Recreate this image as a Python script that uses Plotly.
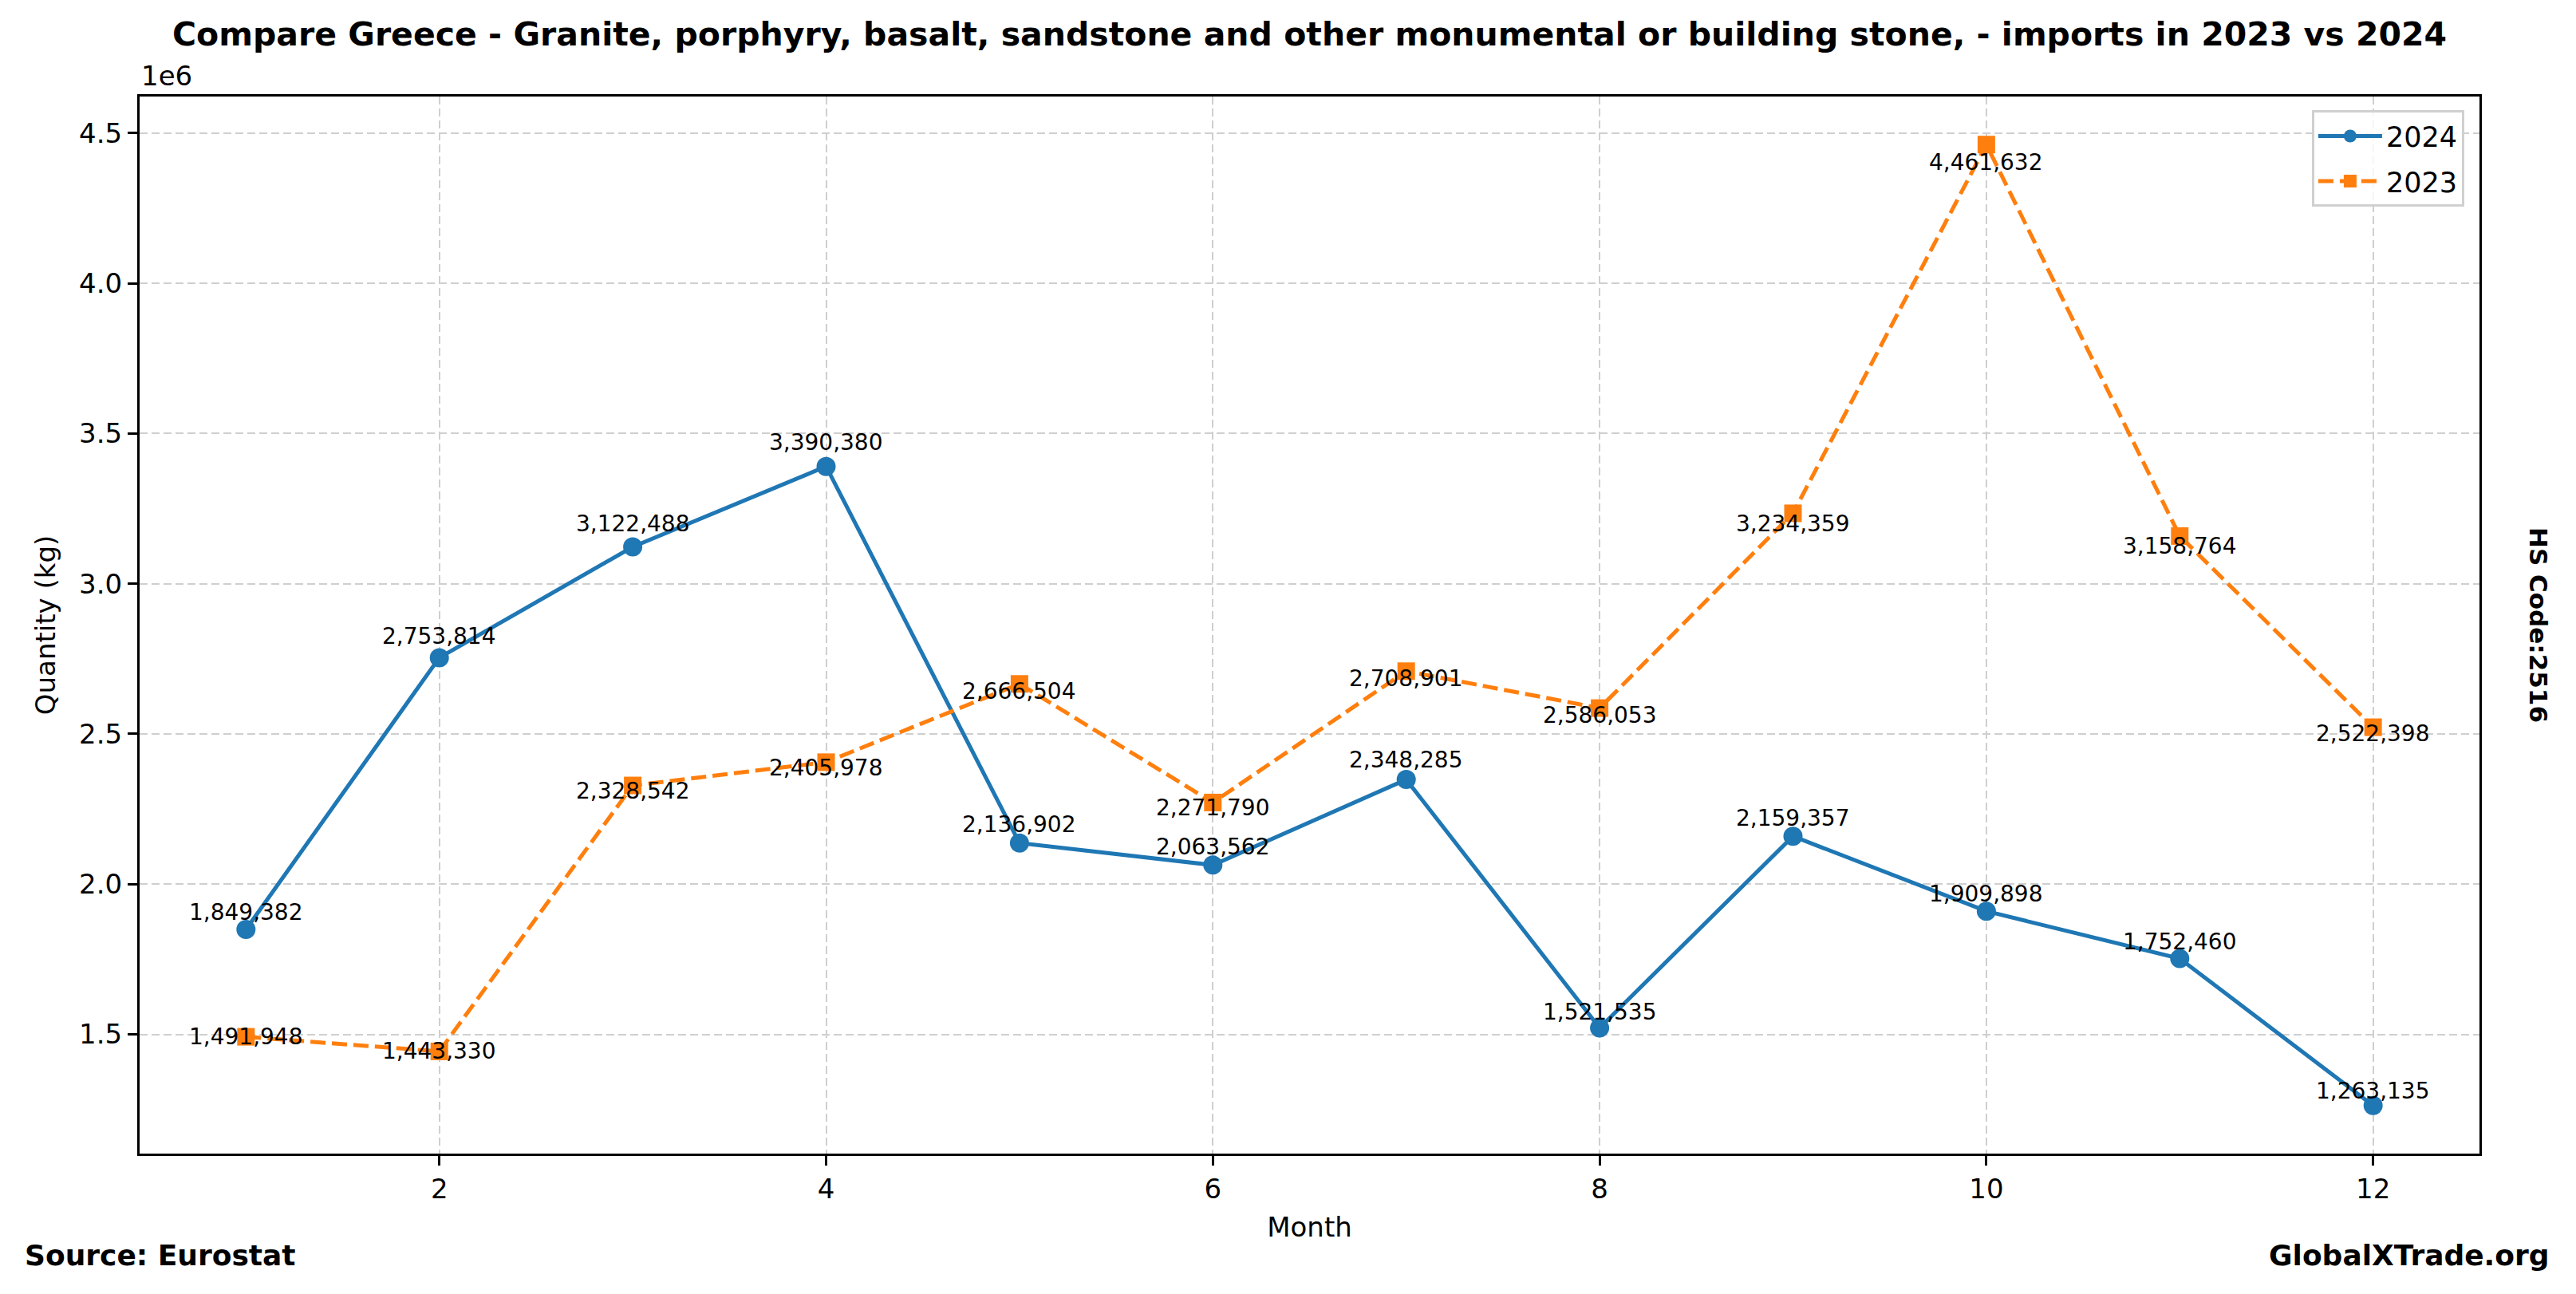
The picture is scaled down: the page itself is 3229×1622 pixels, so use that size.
import plotly.graph_objects as go

months = [1, 2, 3, 4, 5, 6, 7, 8, 9, 10, 11, 12]
qty_2024 = [1849382, 2753814, 3122488, 3390380, 2136902, 2063562,
            2348285, 1521535, 2159357, 1909898, 1752460, 1263135]
qty_2023 = [1491948, 1443330, 2328542, 2405978, 2666504, 2271790,
            2708901, 2586053, 3234359, 4461632, 3158764, 2522398]
x_ticks = [2, 4, 6, 8, 10, 12]
y_ticks = [1.5e6, 2.0e6, 2.5e6, 3.0e6, 3.5e6, 4.0e6, 4.5e6]
y_tick_labels = ["1.5", "2.0", "2.5", "3.0", "3.5", "4.0", "4.5"]

title = ("Compare Greece - Granite, porphyry, basalt, sandstone and other monumental "
         "or building stone, - imports in 2023 vs 2024")

BLUE = "#1f77b4"
ORANGE = "#ff7f0e"
FONT = "DejaVu Sans"

fig = go.Figure()
fig.add_trace(go.Scatter(
    x=months, y=qty_2024, name="2024", mode="lines+markers", legendgroup="a",
    line=dict(color=BLUE, width=5),
    marker=dict(symbol="circle", size=24, color=BLUE),
))
fig.add_trace(go.Scatter(
    x=months, y=qty_2023, name="2023", mode="lines+markers", legendgroup="b",
    line=dict(color=ORANGE, width=5, dash="19px,8px"),
    marker=dict(symbol="square", size=22, color=ORANGE),
))

annotations = []
# labels anchored slightly above (2024) / below (2023) each point, relative to value
for m, v in zip(months, qty_2024):
    annotations.append(dict(x=m, y=v * 1.015, xref="x", yref="y", text=f"{v:,}",
                            showarrow=False, yanchor="middle", xanchor="center",
                            yshift=11, font=dict(family=FONT, size=28, color="black")))
for m, v in zip(months, qty_2023):
    annotations.append(dict(x=m, y=v * 0.98, xref="x", yref="y", text=f"{v:,}",
                            showarrow=False, yanchor="middle", xanchor="center",
                            yshift=11, font=dict(family=FONT, size=28, color="black")))

W, H = 3229, 1622
L, R, T, B = 175, 3108, 121, 1446


def px_x(p):
    return (p - L) / (R - L)


def px_y(p):
    return (B - p) / (B - T)


annotations += [
    dict(x=0, y=1, xref="paper", yref="paper", text="1e6", showarrow=False,
         xanchor="left", yanchor="bottom", yshift=4,
         font=dict(family=FONT, size=34, color="black")),
    dict(x=px_x(29), y=px_y(1573), xref="paper", yref="paper", text="<b>Source: Eurostat</b>",
         showarrow=False, xanchor="left", yanchor="middle",
         font=dict(family=FONT, size=36, color="black")),
    dict(x=px_x(3198), y=px_y(1573), xref="paper", yref="paper", text="<b>GlobalXTrade.org</b>",
         showarrow=False, xanchor="right", yanchor="middle",
         font=dict(family=FONT, size=36, color="black")),
    dict(x=px_x(3182), y=px_y(783), xref="paper", yref="paper", text="<b>HS Code:2516</b>",
         showarrow=False, xanchor="center", yanchor="middle", textangle=90,
         font=dict(family=FONT, size=31, color="black")),
]

fig.update_layout(
    width=W, height=H,
    margin=dict(l=L, r=W - R, t=T, b=H - B, pad=0),
    paper_bgcolor="white", plot_bgcolor="white",
    font=dict(family=FONT, size=34, color="black"),
    title=dict(text="<b>" + title + "</b>", x=0.5, xref="paper", xanchor="center",
               y=1 - 43 / H, yref="container", yanchor="middle",
               font=dict(family=FONT, size=41, color="black")),
    showlegend=True,
    legend=dict(x=0.9935, y=0.987, xanchor="right", yanchor="top",
                bgcolor="rgba(255,255,255,0.8)", bordercolor="#d0d0d0", borderwidth=3,
                font=dict(family=FONT, size=35, color="black"),
                itemwidth=80, tracegroupgap=8),
    annotations=annotations,
)

fig.update_xaxes(
    range=[0.45, 12.55], tickvals=x_ticks, ticks="outside", ticklen=12, tickwidth=3,
    tickcolor="black", showline=True, linecolor="black", linewidth=3, mirror=True,
    showgrid=True, gridcolor="#cfcfcf", gridwidth=2, griddash="10px,5px",
    zeroline=False, tickfont=dict(family=FONT, size=34),
    title=dict(text="Month", font=dict(family=FONT, size=34), standoff=18),
)
fig.update_yaxes(
    range=[1103215, 4621557], tickvals=y_ticks, ticktext=y_tick_labels,
    ticks="outside", ticklen=12, tickwidth=3, tickcolor="black",
    showline=True, linecolor="black", linewidth=3, mirror=True,
    showgrid=True, gridcolor="#cfcfcf", gridwidth=2, griddash="10px,5px",
    zeroline=False, tickfont=dict(family=FONT, size=34),
    title=dict(text="Quantity (kg)", font=dict(family=FONT, size=34), standoff=20),
)

fig.write_html("out.html", config={"displayModeBar": False},
               post_script="document.body.style.margin='0';")
